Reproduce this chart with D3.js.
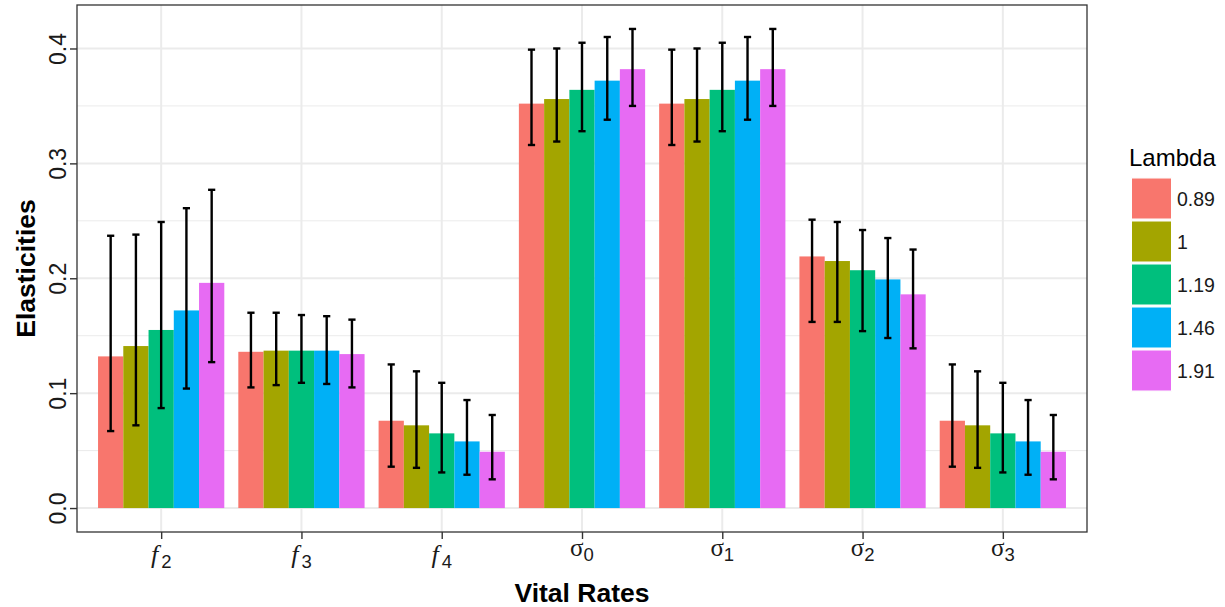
<!DOCTYPE html>
<html>
<head>
<meta charset="utf-8">
<script src="https://cdn.jsdelivr.net/npm/d3@7"></script>
<style>
  html, body { margin: 0; padding: 0; background: #fff; }
  svg { display: block; }
</style>
</head>
<body>
<svg id="chart" width="1225" height="607"></svg>
<script>
// Vital rates (label = base symbol + subscript)
const rateBase = ["f", "f", "f", "σ", "σ", "σ", "σ"];
const rateSub  = ["2", "3", "4", "0", "1", "2", "3"];
const rates = rateBase.map((b, i) => b + rateSub[i]);

// Population growth rates (legend)
const lambdas = ["0.89", "1", "1.19", "1.46", "1.91"];
const lambdaColors = ["#F8766D", "#A3A500", "#00BF7D", "#00B0F6", "#E76BF3"];

// Mean elasticities per lambda, in vital-rate order
const elas089 = [0.132, 0.136, 0.076, 0.352, 0.352, 0.219, 0.076];
const elas100 = [0.141, 0.137, 0.072, 0.356, 0.356, 0.215, 0.072];
const elas119 = [0.155, 0.137, 0.065, 0.364, 0.364, 0.207, 0.065];
const elas146 = [0.172, 0.137, 0.058, 0.372, 0.372, 0.199, 0.058];
const elas191 = [0.196, 0.134, 0.049, 0.382, 0.382, 0.186, 0.049];

// Lower / upper interval bounds
const lower089 = [0.067, 0.105, 0.036, 0.316, 0.316, 0.162, 0.036];
const upper089 = [0.237, 0.170, 0.125, 0.399, 0.399, 0.251, 0.125];
const lower100 = [0.072, 0.107, 0.035, 0.319, 0.319, 0.162, 0.035];
const upper100 = [0.238, 0.170, 0.119, 0.400, 0.400, 0.249, 0.119];
const lower119 = [0.087, 0.109, 0.031, 0.328, 0.328, 0.154, 0.031];
const upper119 = [0.249, 0.168, 0.109, 0.405, 0.405, 0.242, 0.109];
const lower146 = [0.104, 0.108, 0.029, 0.338, 0.338, 0.148, 0.029];
const upper146 = [0.261, 0.167, 0.094, 0.410, 0.410, 0.235, 0.094];
const lower191 = [0.127, 0.105, 0.025, 0.350, 0.350, 0.139, 0.025];
const upper191 = [0.277, 0.164, 0.081, 0.417, 0.417, 0.225, 0.081];

const yTicks = [0.0, 0.1, 0.2, 0.3, 0.4];
const yMinor = [0.05, 0.15, 0.25, 0.35];

const means = [elas089, elas100, elas119, elas146, elas191];
const lowers = [lower089, lower100, lower119, lower146, lower191];
const uppers = [upper089, upper100, upper119, upper146, upper191];

const rows = [];
lambdas.forEach((lam, j) => {
  rates.forEach((r, i) => {
    rows.push({ rate: r, lambda: lam, value: means[j][i], lo: lowers[j][i], hi: uppers[j][i] });
  });
});

const svg = d3.select("#chart");
const panel = { left: 77, right: 1087, top: 5, bottom: 532 };

// y range with 5% expansion on both sides of the data span
const yMax = d3.max(rows, d => d.hi);
const yLo = 0, span = yMax - yLo;
const y = d3.scaleLinear()
  .domain([yLo - 0.05 * span, yMax + 0.05 * span])
  .range([panel.bottom, panel.top]);

const x = d3.scalePoint().domain(rates).range([panel.left, panel.right]).padding(0.6);
const step = x.step();
const dodge = d3.scaleBand().domain(lambdas).range([-0.45 * step, 0.45 * step]).padding(0);
const color = d3.scaleOrdinal().domain(lambdas).range(lambdaColors);

// Panel grid
const grid = svg.append("g");
grid.selectAll("line.minor").data(yMinor).join("line")
  .attr("x1", panel.left).attr("x2", panel.right)
  .attr("y1", d => y(d)).attr("y2", d => y(d))
  .attr("stroke", "#ebebeb").attr("stroke-width", 1);
grid.selectAll("line.majorY").data(yTicks).join("line")
  .attr("x1", panel.left).attr("x2", panel.right)
  .attr("y1", d => y(d)).attr("y2", d => y(d))
  .attr("stroke", "#ebebeb").attr("stroke-width", 2);
grid.selectAll("line.majorX").data(rates).join("line")
  .attr("x1", d => x(d)).attr("x2", d => x(d))
  .attr("y1", panel.top).attr("y2", panel.bottom)
  .attr("stroke", "#ebebeb").attr("stroke-width", 2);

// Bars
svg.append("g").selectAll("rect").data(rows).join("rect")
  .attr("x", d => x(d.rate) + dodge(d.lambda))
  .attr("width", dodge.bandwidth())
  .attr("y", d => y(d.value))
  .attr("height", d => y(0) - y(d.value))
  .attr("fill", d => color(d.lambda));

// Error bars
const capHalf = 3.6;
const eb = svg.append("g").attr("stroke", "#000").attr("stroke-width", 2.4).attr("fill", "none");
rows.forEach(d => {
  const cx = x(d.rate) + dodge(d.lambda) + dodge.bandwidth() / 2;
  eb.append("line").attr("x1", cx).attr("x2", cx).attr("y1", y(d.lo)).attr("y2", y(d.hi));
  eb.append("line").attr("x1", cx - capHalf).attr("x2", cx + capHalf).attr("y1", y(d.lo)).attr("y2", y(d.lo));
  eb.append("line").attr("x1", cx - capHalf).attr("x2", cx + capHalf).attr("y1", y(d.hi)).attr("y2", y(d.hi));
});

// Panel border
svg.append("rect")
  .attr("x", panel.left).attr("y", panel.top)
  .attr("width", panel.right - panel.left).attr("height", panel.bottom - panel.top)
  .attr("fill", "none").attr("stroke", "#333333").attr("stroke-width", 1.3);

// Y axis
const yAxis = d3.axisLeft(y).tickValues(yTicks).tickFormat(d3.format(".1f")).tickSize(7).tickPadding(3);
const gy = svg.append("g").attr("transform", `translate(${panel.left},0)`).call(yAxis);
gy.select(".domain").remove();
gy.selectAll(".tick line").attr("stroke", "#333333").attr("stroke-width", 1.4);
gy.selectAll(".tick text")
  .attr("x", null).attr("dy", null).attr("dx", null)
  .attr("text-anchor", "middle")
  .attr("transform", "translate(-11,0) rotate(-90)")
  .attr("font-family", "Liberation Sans, Arial, sans-serif")
  .attr("font-size", 23).attr("fill", "#1a1a1a");

// X axis
const xAxis = d3.axisBottom(x).tickSize(7).tickFormat("");
const gx = svg.append("g").attr("transform", `translate(0,${panel.bottom})`).call(xAxis);
gx.select(".domain").remove();
gx.selectAll(".tick line").attr("stroke", "#333333").attr("stroke-width", 1.4);

const xl = svg.append("g");
rates.forEach((r, i) => {
  const isF = rateBase[i] === "f";
  const t = xl.append("text")
    .attr("x", x(r)).attr("y", isF ? 563 : 556)
    .attr("text-anchor", "middle").attr("fill", "#1a1a1a");
  t.append("tspan")
    .attr("font-family", "Liberation Serif, Times New Roman, serif")
    .attr("font-style", isF ? "italic" : "normal")
    .attr("font-size", isF ? 26 : 25)
    .text(rateBase[i]);
  t.append("tspan")
    .attr("font-family", "Liberation Sans, Arial, sans-serif")
    .attr("font-size", 18.5)
    .attr("dx", isF ? 3 : 0)
    .attr("dy", 5)
    .text(rateSub[i]);
});

// Axis titles
svg.append("text")
  .attr("x", (panel.left + panel.right) / 2).attr("y", 602)
  .attr("text-anchor", "middle")
  .attr("font-family", "Liberation Sans, Arial, sans-serif")
  .attr("font-weight", "bold").attr("font-size", 26.5)
  .text("Vital Rates");
svg.append("text")
  .attr("transform", `translate(35,${(panel.top + panel.bottom) / 2}) rotate(-90)`)
  .attr("text-anchor", "middle")
  .attr("font-family", "Liberation Sans, Arial, sans-serif")
  .attr("font-weight", "bold").attr("font-size", 26.5)
  .text("Elasticities");

// Legend
const lg = svg.append("g").attr("transform", "translate(1130,0)");
lg.append("text").attr("x", -1).attr("y", 166)
  .attr("font-family", "Liberation Sans, Arial, sans-serif")
  .attr("font-size", 24).text("Lambda");
const keyY = d3.scaleBand().domain(lambdas).range([177, 177 + 43 * lambdas.length]).padding(0);
const items = lg.selectAll("g.item").data(lambdas).join("g")
  .attr("transform", d => `translate(0,${keyY(d)})`);
items.append("rect").attr("x", 1).attr("y", 0.5).attr("width", 41).attr("height", keyY.bandwidth() - 1)
  .attr("fill", "#f2f2f2");
items.append("rect").attr("x", 1.5).attr("y", 1).attr("width", 40).attr("height", keyY.bandwidth() - 2)
  .attr("fill", d => color(d)).attr("stroke", "#fff").attr("stroke-width", 1);
items.append("text").attr("x", 47).attr("y", keyY.bandwidth() / 2 + 7)
  .attr("font-family", "Liberation Sans, Arial, sans-serif")
  .attr("font-size", 19.5).attr("fill", "#1a1a1a")
  .text(d => d);
</script>
</body>
</html>
